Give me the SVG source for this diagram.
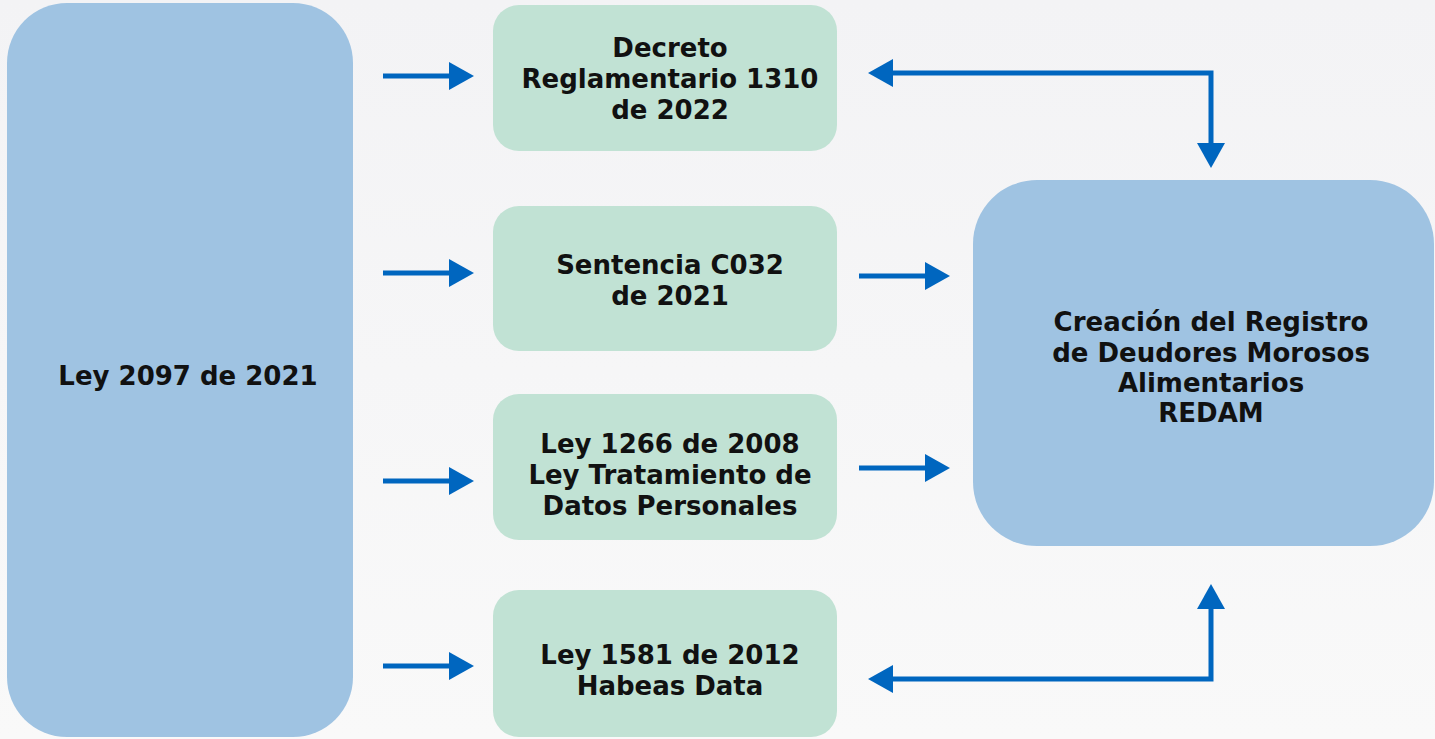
<svg xmlns="http://www.w3.org/2000/svg" width="1435" height="739" viewBox="0 0 1435 739">
<defs>
<linearGradient id="bg" x1="0" y1="0" x2="0" y2="1">
<stop offset="0" stop-color="#f3f3f5"/>
<stop offset="1" stop-color="#f9f9f9"/>
</linearGradient>
<marker id="ah" viewBox="0 0 25 28" refX="0" refY="14" markerWidth="25" markerHeight="28" markerUnits="userSpaceOnUse" orient="auto-start-reverse">
<path d="M0,0 L25,14 L0,28 Z" fill="#0066bf"/>
</marker>
<style>
.blue{fill:#9fc3e2}
.green{fill:#c1e2d4}
.t{font-family:"DejaVu Sans","Liberation Sans",Arial,sans-serif;font-weight:bold;font-size:26px;fill:#111;text-anchor:middle}
.c{stroke:#0066bf;stroke-width:5;fill:none;marker-end:url(#ah)}
.c2{stroke:#0066bf;stroke-width:5;fill:none;marker-end:url(#ah);marker-start:url(#ah)}
</style>
</defs>
<rect width="1435" height="739" fill="url(#bg)"/>
<g id="ley2097">
<rect class="blue" x="7" y="3" width="346" height="734" rx="60"/>
<text class="t" x="188" y="385">Ley 2097 de 2021</text>
</g>
<g id="decreto">
<rect class="green" x="493" y="5" width="344" height="146" rx="26"/>
<text class="t" x="670" y="57">Decreto</text>
<text class="t" x="670" y="88">Reglamentario 1310</text>
<text class="t" x="670" y="119">de 2022</text>
</g>
<g id="sentencia">
<rect class="green" x="493" y="206" width="344" height="145" rx="26"/>
<text class="t" x="670" y="274">Sentencia C032</text>
<text class="t" x="670" y="305">de 2021</text>
</g>
<g id="ley1266">
<rect class="green" x="493" y="394" width="344" height="146" rx="26"/>
<text class="t" x="670" y="453">Ley 1266 de 2008</text>
<text class="t" x="670" y="484">Ley Tratamiento de</text>
<text class="t" x="670" y="515">Datos Personales</text>
</g>
<g id="ley1581">
<rect class="green" x="493" y="590" width="344" height="147" rx="26"/>
<text class="t" x="670" y="664">Ley 1581 de 2012</text>
<text class="t" x="670" y="695">Habeas Data</text>
</g>
<g id="redam">
<rect class="blue" x="973" y="180" width="461" height="366" rx="64"/>
<text class="t" x="1211" y="331">Creación del Registro</text>
<text class="t" x="1211" y="362">de Deudores Morosos</text>
<text class="t" x="1211" y="392">Alimentarios</text>
<text class="t" x="1211" y="422">REDAM</text>
</g>
<g id="connectors">
<path class="c" d="M383,76 H449"/>
<path class="c" d="M383,273 H449"/>
<path class="c" d="M383,481 H449"/>
<path class="c" d="M383,666 H449"/>
<path class="c" d="M859,276 H925"/>
<path class="c" d="M859,468 H925"/>
<path class="c2" d="M893,73 H1211 V143"/>
<path class="c2" d="M893,679 H1211 V609"/>
</g>
</svg>
